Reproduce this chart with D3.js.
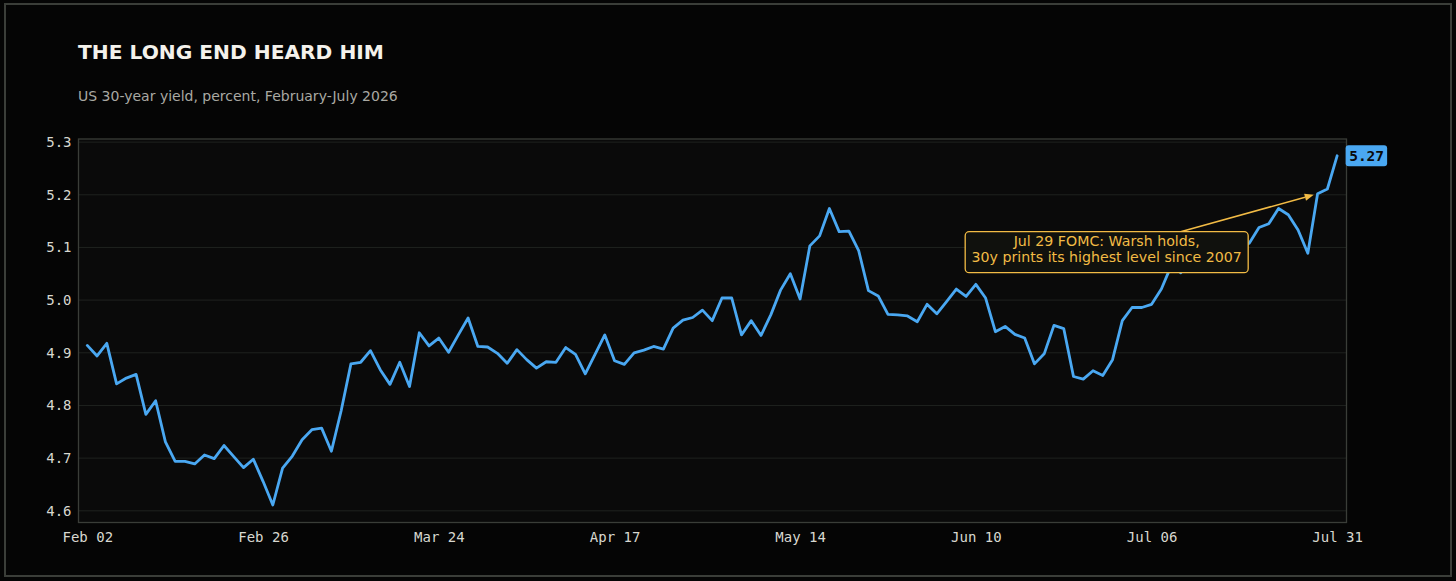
<!DOCTYPE html>
<html>
<head>
<meta charset="utf-8">
<script src="https://cdn.jsdelivr.net/npm/d3@7/dist/d3.min.js"></script>
<style>
  html, body { margin: 0; padding: 0; background: #050505; }
  svg { display: block; }
</style>
</head>
<body>
<svg id="chart" width="1456" height="581"></svg>
<script>
// ---------------- data ----------------
const startDate = "2026-02-02";
const endDate = "2026-07-31";
const holidays = ["2026-05-25"];
const yields = [
  4.914, 4.894, 4.918, 4.841, 4.852, 4.859, 4.783, 4.809, 4.731, 4.694,
  4.694, 4.689, 4.706, 4.699, 4.724, 4.703, 4.682, 4.698, 4.656, 4.611,
  4.681, 4.704, 4.735, 4.754, 4.757, 4.713, 4.790, 4.879, 4.882, 4.904,
  4.868, 4.840, 4.882, 4.836, 4.938, 4.913, 4.928, 4.901, 4.934, 4.966,
  4.912, 4.911, 4.899, 4.880, 4.906, 4.887, 4.871, 4.883, 4.882, 4.910,
  4.897, 4.860, 4.897, 4.934, 4.885, 4.878, 4.900, 4.905, 4.912, 4.907,
  4.947, 4.962, 4.967, 4.981, 4.961, 5.004, 5.004, 4.934, 4.961, 4.933,
  4.972, 5.019, 5.050, 5.002, 5.103, 5.122, 5.174, 5.130, 5.131, 5.094,
  5.018, 5.008, 4.973, 4.972, 4.970, 4.959, 4.992, 4.974, 4.997, 5.021,
  5.007, 5.030, 5.004, 4.940, 4.950, 4.935, 4.928, 4.879, 4.898, 4.952,
  4.946, 4.855, 4.850, 4.866, 4.857, 4.887, 4.961, 4.986, 4.986, 4.992,
  5.021, 5.065, 5.052, 5.075, 5.085, 5.080, 5.095, 5.110, 5.100, 5.108,
  5.138, 5.145, 5.174, 5.162, 5.133, 5.089, 5.202, 5.211, 5.274
];
const yTicks = [4.6, 4.7, 4.8, 4.9, 5.0, 5.1, 5.2, 5.3];
const tickLabels = ["Feb 02", "Feb 26", "Mar 24", "Apr 17", "May 14", "Jun 10", "Jul 06", "Jul 31"];
const titleText = "THE LONG END HEARD HIM";
const subtitleText = "US 30-year yield, percent, February-July 2026";
const annotationLines = ["Jul 29 FOMC: Warsh holds,", "30y prints its highest level since 2007"];
const annotationDate = "2026-07-29";

// ---------------- dates (trading days) ----------------
const parse = d3.timeParse("%Y-%m-%d");
const fmtKey = d3.timeFormat("%Y-%m-%d");
const dates = d3.timeDay.range(parse(startDate), d3.timeDay.offset(parse(endDate), 1))
  .filter(d => d.getDay() !== 0 && d.getDay() !== 6 && !holidays.includes(fmtKey(d)));
const data = yields.map((v, i) => ({ i, date: dates[i], v }));
const n = data.length;
const tickIdx = tickLabels.map((_, k) => Math.floor(k * (n - 1) / (tickLabels.length - 1)));

// ---------------- layout ----------------
const W = 1456, H = 581;
const plot = { left: 78.5, right: 1346.5, top: 139, bottom: 522.5 };
const svg = d3.select("#chart");

const x = d3.scaleLinear().domain([-0.9, n - 1 + 0.96]).range([plot.left, plot.right]);
const y = d3.scaleLinear().domain([4.5778, 5.3059]).range([plot.bottom, plot.top]);

const GOLD = "#f2bb45";
const BLUE = "#4aa8f2";

// background and frame
svg.append("rect").attr("width", W).attr("height", H).attr("fill", "#050505");
svg.append("rect").attr("x", 5).attr("y", 4).attr("width", 1446).attr("height", 572)
  .attr("fill", "none").attr("stroke", "#3b3e39").attr("stroke-width", 2);

// plot background
svg.append("rect")
  .attr("x", plot.left).attr("y", plot.top)
  .attr("width", plot.right - plot.left).attr("height", plot.bottom - plot.top)
  .attr("fill", "#0a0a0a");

// grid
svg.append("g").selectAll("line").data(yTicks).join("line")
  .attr("x1", plot.left).attr("x2", plot.right)
  .attr("y1", d => y(d)).attr("y2", d => y(d))
  .attr("stroke", "#1f221f").attr("stroke-width", 1);

// plot border
svg.append("rect")
  .attr("x", plot.left).attr("y", plot.top)
  .attr("width", plot.right - plot.left).attr("height", plot.bottom - plot.top)
  .attr("fill", "none").attr("stroke", "#3a3d38").attr("stroke-width", 1.3);

// y axis labels
const yAxis = d3.axisLeft(y).tickValues(yTicks).tickFormat(d3.format(".1f")).tickSize(0).tickPadding(7);
const gy = svg.append("g").attr("transform", `translate(${plot.left},0)`).call(yAxis);
gy.select(".domain").remove();
gy.selectAll("text").attr("fill", "#d8d8d0").attr("font-family", "DejaVu Sans Mono")
  .attr("font-size", 14);

// x axis labels
const xAxis = d3.axisBottom(x).tickValues(tickIdx).tickFormat((d, k) => tickLabels[k]).tickSize(0).tickPadding(10);
const gx = svg.append("g").attr("transform", `translate(0,${plot.bottom})`).call(xAxis);
gx.select(".domain").remove();
gx.selectAll("text").attr("fill", "#d8d8d0").attr("font-family", "DejaVu Sans Mono")
  .attr("font-size", 14);

// line
const line = d3.line().x(d => x(d.i)).y(d => y(d.v));
svg.append("path").datum(data)
  .attr("d", line).attr("fill", "none")
  .attr("stroke", BLUE).attr("stroke-width", 2.8)
  .attr("stroke-linejoin", "round").attr("stroke-linecap", "round");

// title & subtitle
svg.append("text").attr("x", 78).attr("y", 59).text(titleText)
  .attr("fill", "#f4f2ec").attr("font-family", "DejaVu Sans").attr("font-weight", "bold")
  .attr("font-size", 20.2);
svg.append("text").attr("x", 78).attr("y", 101).text(subtitleText)
  .attr("fill", "#a9a9a3").attr("font-family", "DejaVu Sans").attr("font-size", 14);

// last value label
const last = data[n - 1];
const lblG = svg.append("g").attr("transform", `translate(${x(last.i) + 8.5},${y(last.v)})`);
lblG.append("rect").attr("x", 0).attr("y", -10.5).attr("width", 41.5).attr("height", 21)
  .attr("rx", 3).attr("fill", BLUE);
lblG.append("text").attr("x", 21).attr("y", 0).attr("dy", "0.36em")
  .attr("text-anchor", "middle").text(d3.format(".2f")(last.v))
  .attr("fill", "#0a0a0a").attr("font-family", "DejaVu Sans Mono").attr("font-weight", "bold")
  .attr("font-size", 14.5);

// annotation
const target = data[dates.findIndex(d => fmtKey(d) === annotationDate)];
const tx = x(target.i), ty = y(target.v);
const cx = x(104.4), cy = y(5.091);
const boxW = 283, boxH = 41;
const bx0 = cx - boxW / 2, by0 = cy - boxH / 2;

// arrow from box edge to target
const dx = tx - cx, dy = ty - cy;
const tTop = (by0 - cy) / dy;
const sx = cx + dx * tTop, sy = by0;
const len = Math.hypot(tx - sx, ty - sy);
const ux = (tx - sx) / len, uy = (ty - sy) / len;
const shrink = 4, headLen = 9, headW = 3.6;
const ex = tx - ux * shrink, ey = ty - uy * shrink;
const hx = ex - ux * headLen, hy = ey - uy * headLen;
svg.append("line").attr("x1", sx).attr("y1", sy).attr("x2", hx).attr("y2", hy)
  .attr("stroke", GOLD).attr("stroke-width", 1.5);
svg.append("path")
  .attr("d", `M${ex},${ey}L${hx - uy * headW},${hy + ux * headW}L${hx + uy * headW},${hy - ux * headW}Z`)
  .attr("fill", GOLD);

svg.append("rect").attr("x", bx0).attr("y", by0).attr("width", boxW).attr("height", boxH)
  .attr("rx", 4).attr("fill", "#10110d").attr("stroke", GOLD).attr("stroke-width", 1.3);
svg.append("g").selectAll("text").data(annotationLines).join("text")
  .attr("x", cx).attr("y", (d, k) => cy - 3 + (k - 0.5) * 15.5 + 5)
  .attr("text-anchor", "middle").text(d => d)
  .attr("fill", GOLD).attr("font-family", "DejaVu Sans").attr("font-size", 14.2);
</script>
</body>
</html>
